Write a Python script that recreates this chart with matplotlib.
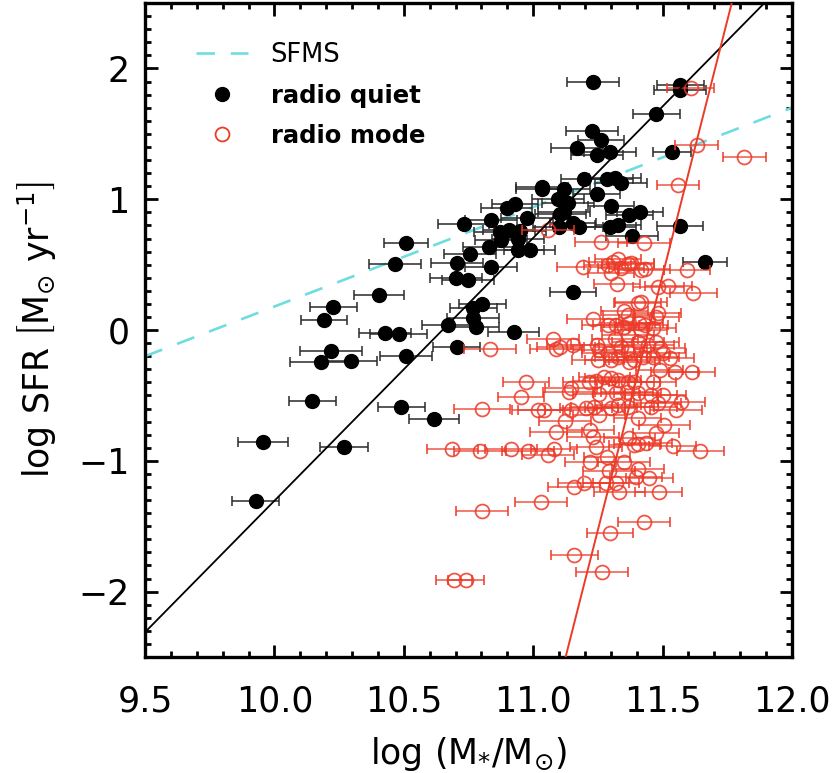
import matplotlib
matplotlib.use("Agg")
import matplotlib.pyplot as plt
import numpy as np
from matplotlib.lines import Line2D

# ---------------- data ----------------
quiet_mass = [10.731, 10.509, 10.466, 10.404, 10.228, 10.192, 10.427, 10.481, 10.670, 10.704,
              10.220, 10.179, 10.295, 10.508, 10.147, 10.490, 10.617, 9.956, 9.927, 10.269,
              10.705, 10.757, 10.702, 10.748, 10.769, 10.804, 10.766, 10.778, 10.924, 10.837,
              10.897, 10.929, 11.033, 11.032, 11.118, 11.198, 11.285, 11.316, 11.245, 11.095,
              11.133, 11.120, 11.105, 11.301, 10.975, 10.870, 10.907, 10.950, 10.875, 10.940,
              10.830, 10.942, 10.986, 11.153, 11.178, 11.298, 11.327, 10.837, 11.153, 11.232,
              11.568, 11.568, 11.476, 11.227, 11.262, 11.168, 11.247, 11.297, 11.537, 11.339,
              11.372, 11.412, 11.382, 11.568, 11.662, 11.098]
quiet_sfr = [0.810, 0.665, 0.502, 0.265, 0.178, 0.074, -0.020, -0.033, 0.036, -0.130,
             -0.158, -0.242, -0.234, -0.196, -0.540, -0.586, -0.680, -0.859, -1.307, -0.892,
             0.515, 0.581, 0.398, 0.382, 0.172, 0.199, 0.089, 0.025, -0.015, 0.841,
             0.935, 0.961, 1.096, 1.076, 1.076, 1.154, 1.152, 1.160, 1.037, 0.999,
             0.969, 0.905, 0.885, 0.948, 0.854, 0.752, 0.765, 0.757, 0.688, 0.696,
             0.632, 0.612, 0.609, 0.816, 0.785, 0.790, 0.803, 0.479, 0.293, 1.896,
             1.873, 1.835, 1.649, 1.521, 1.453, 1.389, 1.336, 1.361, 1.358, 1.126,
             0.879, 0.900, 0.719, 0.795, 0.518, 0.790]
quiet_err = [0.10, 0.085, 0.10, 0.097, 0.09, 0.09, 0.10, 0.11, 0.10, 0.09,
             0.12, 0.12, 0.10, 0.10, 0.09, 0.09, 0.097, 0.095, 0.092, 0.092,
             0.10, 0.10, 0.10, 0.10, 0.09, 0.09, 0.10, 0.09, 0.10, 0.10,
             0.10, 0.09, 0.10, 0.10, 0.10, 0.09, 0.10, 0.10, 0.09, 0.10,
             0.10, 0.10, 0.10, 0.09, 0.10, 0.10, 0.10, 0.10, 0.10, 0.10,
             0.10, 0.10, 0.10, 0.09, 0.09, 0.10, 0.09, 0.10, 0.09, 0.10,
             0.09, 0.10, 0.09, 0.10, 0.09, 0.10, 0.10, 0.10, 0.074, 0.10,
             0.09, 0.09, 0.10, 0.088, 0.085, 0.10]

mode_mass = [11.608, 11.631, 11.816, 11.561, 11.058, 11.262, 11.427, 11.191, 11.288, 11.307,
             11.327, 11.365, 11.378, 11.417, 11.430, 11.301, 11.339, 11.594, 11.324, 11.484,
             11.522, 11.619, 11.417, 11.404, 11.352, 11.368, 11.481, 11.475, 11.230, 11.288,
             11.320, 11.352, 11.372, 11.410, 11.430, 11.417, 11.075, 11.088, 11.105, 11.153,
             11.245, 11.255, 11.316, 11.365, 11.462, 11.475, 11.488, 11.501, 11.530, 11.288,
             11.301, 11.327, 11.365, 11.372, 11.391, 11.488, 11.546, 11.613, 10.972, 11.146,
             11.139, 11.217, 11.243, 11.275, 11.301, 11.327, 11.365, 11.391, 11.462, 11.255,
             11.320, 11.363, 11.404, 11.456, 11.501, 10.953, 11.017, 10.802, 11.124, 11.088,
             11.146, 11.204, 11.236, 11.255, 11.301, 11.327, 11.365, 11.404, 11.456, 11.481,
             11.552, 11.572, 11.221, 11.230, 11.243, 11.372, 11.404, 11.436, 11.475, 11.507,
             11.539, 11.646, 10.688, 10.794, 10.914, 10.979, 11.058, 11.081, 11.221, 11.285,
             11.352, 11.294, 11.404, 11.449, 11.397, 11.197, 11.157, 11.281, 11.320, 11.333,
             11.485, 11.030, 10.802, 11.427, 11.297, 11.159, 11.266, 10.694, 10.740, 10.834,
             11.339, 11.404, 11.443, 11.249, 11.423, 11.462, 11.391, 11.043]
mode_sfr = [1.848, 1.414, 1.320, 1.109, 0.765, 0.670, 0.663, 0.484, 0.497, 0.522,
            0.541, 0.505, 0.510, 0.459, 0.466, 0.438, 0.472, 0.459, 0.349, 0.326,
            0.336, 0.281, 0.216, 0.204, 0.148, 0.115, 0.128, 0.102, 0.082, 0.038,
            0.038, 0.025, 0.051, 0.056, 0.038, 0.000, -0.069, -0.148, -0.132, -0.115,
            -0.115, -0.153, -0.071, -0.038, 0.013, -0.089, -0.140, -0.178, -0.212, -0.178,
            -0.229, -0.204, -0.166, -0.242, -0.229, -0.306, -0.319, -0.319, -0.395, -0.446,
            -0.472, -0.395, -0.388, -0.357, -0.369, -0.382, -0.395, -0.395, -0.395, -0.489,
            -0.484, -0.472, -0.484, -0.497, -0.497, -0.510, -0.612, -0.606, -0.693, -0.777,
            -0.612, -0.599, -0.586, -0.650, -0.599, -0.573, -0.591, -0.675, -0.586, -0.560,
            -0.612, -0.548, -0.765, -0.816, -0.892, -0.828, -0.872, -0.862, -0.790, -0.726,
            -0.887, -0.923, -0.912, -0.923, -0.912, -0.923, -0.956, -0.912, -1.007, -0.968,
            -1.007, -1.078, -1.065, -1.134, -1.122, -1.167, -1.203, -1.172, -1.172, -1.241,
            -1.241, -1.313, -1.384, -1.466, -1.554, -1.720, -1.848, -1.911, -1.911, -0.145,
            -0.127, -0.089, -0.115, -0.229, -0.204, -0.204, -0.879, -0.612]
mode_err = [0.09, 0.082, 0.084, 0.081, 0.10, 0.10, 0.10, 0.10, 0.09, 0.09,
            0.09, 0.10, 0.09, 0.09, 0.10, 0.09, 0.09, 0.09, 0.09, 0.10,
            0.09, 0.09, 0.10, 0.09, 0.09, 0.10, 0.09, 0.09, 0.10, 0.10,
            0.09, 0.09, 0.10, 0.09, 0.09, 0.10, 0.10, 0.10, 0.09, 0.10,
            0.10, 0.10, 0.09, 0.10, 0.09, 0.09, 0.10, 0.09, 0.09, 0.10,
            0.10, 0.09, 0.09, 0.10, 0.10, 0.09, 0.09, 0.09, 0.09, 0.10,
            0.10, 0.10, 0.09, 0.10, 0.10, 0.09, 0.10, 0.10, 0.09, 0.10,
            0.09, 0.10, 0.09, 0.10, 0.09, 0.09, 0.10, 0.11, 0.10, 0.10,
            0.10, 0.10, 0.09, 0.10, 0.10, 0.09, 0.10, 0.09, 0.10, 0.09,
            0.10, 0.09, 0.09, 0.10, 0.10, 0.10, 0.09, 0.10, 0.09, 0.10,
            0.09, 0.09, 0.10, 0.10, 0.10, 0.10, 0.10, 0.09, 0.10, 0.09,
            0.10, 0.10, 0.10, 0.09, 0.10, 0.10, 0.10, 0.09, 0.09, 0.10,
            0.09, 0.10, 0.10, 0.10, 0.09, 0.09, 0.10, 0.07, 0.07, 0.10,
            0.10, 0.10, 0.10, 0.10, 0.10, 0.10, 0.10, 0.10]

# fitted relations: (slope, value at log M = 9.5)
black_fit = (2.01, -2.31)
red_fit = (7.79, -15.16)
sfms_fit = (0.76, -0.20)

x_ticks = [9.5, 10.0, 10.5, 11.0, 11.5, 12.0]
x_ticklabels = ["9.5", "10.0", "10.5", "11.0", "11.5", "12.0"]
y_ticks = [-2, -1, 0, 1, 2]
y_ticklabels = ["\u22122", "\u22121", "0", "1", "2"]

# ---------------- figure ----------------
plt.rcParams['font.family'] = ['DejaVu Sans']
plt.rcParams['mathtext.fontset'] = 'dejavusans'

fig = plt.figure(figsize=(8.33, 7.73), dpi=100)
ax = fig.add_axes([0.1741, 0.150, 0.7767, 0.846])

RED = '#ec3a28'
CYAN = '#6fdde0'
MS = 10.0

ax.errorbar(quiet_mass, quiet_sfr, xerr=quiet_err, fmt='o', color='black',
            ecolor='#2a2a2a', elinewidth=1.1, capsize=3.4, capthick=1.1,
            markersize=MS, zorder=3)
ax.errorbar(mode_mass, mode_sfr, xerr=mode_err, fmt='o', mfc='none', mec=RED,
            mew=1.3, ecolor=RED, elinewidth=1.1, capsize=3.4, capthick=1.1,
            markersize=MS, alpha=0.85, zorder=4)

xx = np.array([9.5, 12.0])
ax.plot(xx, black_fit[1] + black_fit[0] * (xx - 9.5), color='black', lw=1.3, zorder=5)
ax.plot(xx, red_fit[1] + red_fit[0] * (xx - 9.5), color=RED, lw=1.4, zorder=5)
ax.plot(xx, sfms_fit[1] + sfms_fit[0] * (xx - 9.5), color=CYAN,
        lw=1.9, ls=(0, (7, 6)), zorder=2)

ax.set_xlim(9.5, 12.0)
ax.set_ylim(-2.5, 2.5)
ax.set_xticks(x_ticks)
ax.set_xticklabels(x_ticklabels)
ax.set_yticks(y_ticks)
ax.set_yticklabels(y_ticklabels)
ax.set_xticks(np.arange(9.5, 12.0001, 0.1), minor=True)
ax.set_yticks(np.arange(-2.5, 2.5001, 0.1), minor=True)

ax.tick_params(which='both', direction='in', top=True, right=True, labelsize=25)
ax.tick_params(which='major', length=9, width=2.0)
ax.tick_params(which='minor', length=4.5, width=2.0)
ax.tick_params(axis='x', which='major', pad=20)
ax.tick_params(axis='y', which='major', pad=11)
for s in ax.spines.values():
    s.set_linewidth(2.4)

ax.set_xlabel(r'log (M$_{*}$/M$_{\odot}$)', fontsize=25, labelpad=12)
ax.set_ylabel(r'log SFR $\left[\mathrm{M_{\odot}\ yr^{-1}}\right]$', fontsize=25, labelpad=14)

# legend
handles = [
    Line2D([], [], color=CYAN, lw=1.9, ls=(0, (7, 6))),
    Line2D([], [], marker='o', ls='none', color='black', markersize=MS),
    Line2D([], [], marker='o', ls='none', mfc='none', mec=RED, mew=1.3, markersize=MS),
]
leg = ax.legend(handles, ['SFMS', 'radio quiet', 'radio mode'], loc='upper left',
                bbox_to_anchor=(0.079, 0.94), frameon=False, fontsize=18.5,
                handlelength=2.0, handletextpad=0.9, labelspacing=0.62,
                borderpad=0, borderaxespad=0)
for t in leg.get_texts()[1:]:
    t.set_fontweight('bold')
    t.set_fontsize(17.5)

fig.savefig('out.png', dpi=100)
